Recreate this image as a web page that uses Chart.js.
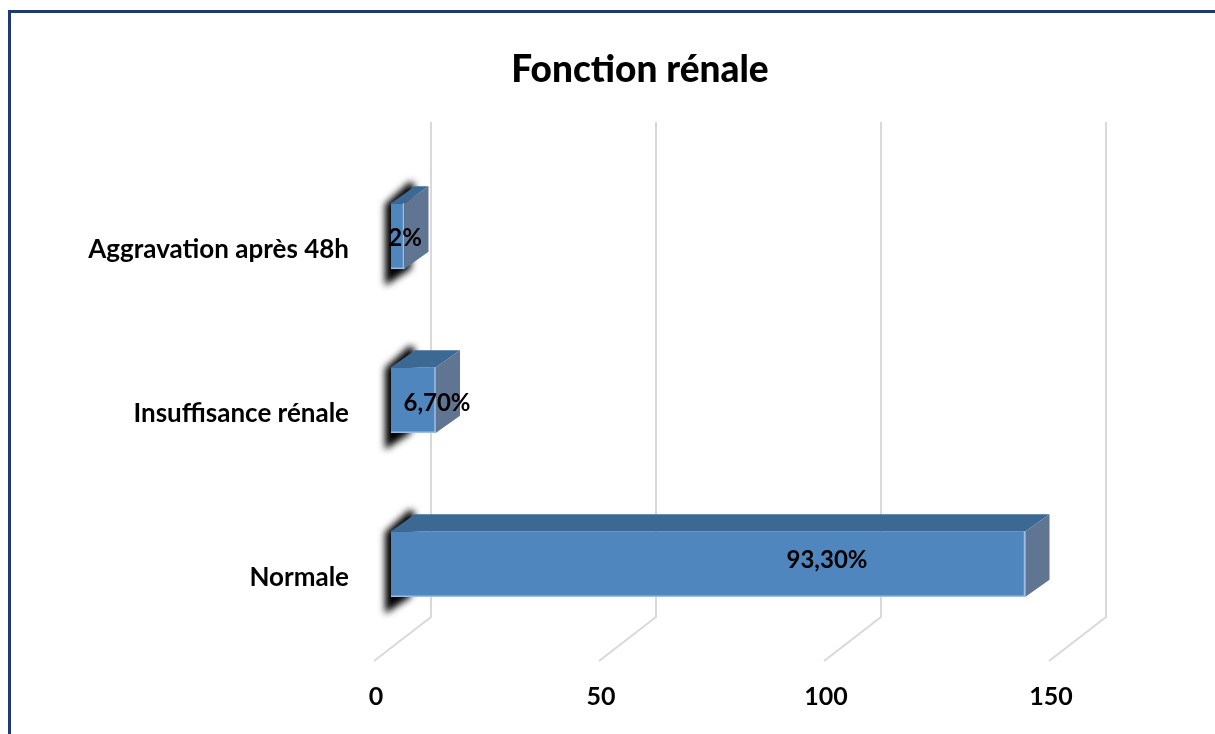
<!DOCTYPE html>
<html>
<head>
<meta charset="utf-8">
<title>Fonction rénale</title>
<script src="https://cdn.jsdelivr.net/npm/chart.js@4.4.0/dist/chart.umd.min.js"></script>
<style>
  html, body { margin: 0; padding: 0; background: #fff; overflow: hidden; }
  #wrap { position: relative; width: 1215px; height: 734px; }
  #frame {
    position: absolute; left: 8px; top: 10px; width: 1300px; height: 800px;
    border-left: 3px solid #1f3a72; border-top: 3px solid #1f3a72;
  }
  #title {
    position: absolute; left: 0; top: 46px; width: 1280px; text-align: center;
    font: 900 37px Lato, sans-serif; line-height: 44px; color: #000;
  }
  #chart { position: absolute; left: 0; top: 0; }
</style>
</head>
<body>
<div id="wrap">
  <div id="frame"></div>
  <canvas id="chart" width="1215" height="734"></canvas>
  <div id="title">Fonction rénale</div>
</div>
<script>
// data (bar lengths are counts, labels show the %)
const categories = ["Aggravation après 48h", "Insuffisance rénale", "Normale"];
const counts = [3, 10, 141];
const pctLabels = ["2%", "6,70%", "93,30%"];
const xTicks = [0, 50, 100, 150];

const FONT = "Lato, sans-serif";

// fake 3D look: back wall gridlines, shadow, top + side faces, labels
const bar3d = {
  id: "bar3d",
  beforeDraw(chart, args, opts) {
    const { ctx, chartArea, scales: { x } } = chart;
    ctx.save();
    ctx.strokeStyle = "#d9d9d9";
    ctx.lineWidth = 2;
    xTicks.forEach(v => {
      const px = x.getPixelForValue(v);
      ctx.beginPath();
      ctx.moveTo(px + 40, chartArea.top - 32);
      ctx.lineTo(px + 40, chartArea.bottom - 29);
      ctx.lineTo(px - 17, chartArea.bottom + 15);
      ctx.stroke();
    });
    ctx.restore();
  },
  beforeDatasetsDraw(chart) {
    const { ctx } = chart;
    const meta = chart.getDatasetMeta(0);
    const off = 3000; // draw shape off canvas, keep only its blurred shadow
    ctx.save();
    meta.data.forEach(bar => {
      const { y, base, height } = bar.getProps(["y", "base", "height"], true);
      const top = y - height / 2, bottom = y + height / 2;
      const b = base - off;
      ctx.shadowColor = "rgba(0,0,0,1)";
      ctx.shadowBlur = 7;
      ctx.shadowOffsetX = off;
      ctx.fillStyle = "#000";
      ctx.beginPath();
      ctx.moveTo(b - 6, top + 1);
      ctx.lineTo(b + 19, top - 22);
      ctx.lineTo(b + 24, top - 18);
      ctx.lineTo(b + 20, bottom);
      ctx.lineTo(b - 6, bottom + 17);
      ctx.closePath();
      ctx.fill();
    });
    ctx.restore();
  },
  afterDatasetsDraw(chart, args, opts) {
    const { ctx } = chart;
    const meta = chart.getDatasetMeta(0);
    const dx = opts.depthX, dy = opts.depthY;
    ctx.save();
    meta.data.forEach((bar, i) => {
      const { x, y, base, height } = bar.getProps(["x", "y", "base", "height"], true);
      const top = y - height / 2, bottom = y + height / 2;
      // top face
      ctx.fillStyle = "#3c6994";
      ctx.beginPath();
      ctx.moveTo(base, top);
      ctx.lineTo(base + dx, top + dy);
      ctx.lineTo(x + dx, top + dy);
      ctx.lineTo(x, top);
      ctx.closePath();
      ctx.fill();
      // side face
      ctx.fillStyle = "#5f7591";
      ctx.beginPath();
      ctx.moveTo(x, top);
      ctx.lineTo(x + dx, top + dy);
      ctx.lineTo(x + dx, bottom + dy);
      ctx.lineTo(x, bottom);
      ctx.closePath();
      ctx.fill();
      // light edge on the front face
      ctx.strokeStyle = "#9cbde4";
      ctx.lineWidth = 1.5;
      ctx.beginPath();
      ctx.moveTo(x - 1, top);
      ctx.lineTo(x - 1, bottom);
      ctx.stroke();
      ctx.beginPath();
      ctx.moveTo(base, bottom - 0.5);
      ctx.lineTo(x, bottom - 0.5);
      ctx.stroke();
      // value label
      ctx.fillStyle = "#000";
      ctx.font = "bold 24px " + FONT;
      ctx.textAlign = "center";
      ctx.textBaseline = "middle";
      ctx.fillText(pctLabels[i], base + opts.labelDx[i], y + opts.labelDy[i]);
    });
    ctx.restore();
  }
};

new Chart(document.getElementById("chart"), {
  type: "bar",
  data: {
    labels: categories,
    datasets: [{
      data: counts,
      backgroundColor: "#4f86bd",
      borderWidth: 0,
      barPercentage: 0.4,
      categoryPercentage: 1
    }]
  },
  options: {
    indexAxis: "y",
    responsive: false,
    animation: false,
    layout: { padding: { top: 154, right: 149, bottom: 0, left: 0 } },
    plugins: {
      legend: { display: false },
      tooltip: { enabled: false },
      bar3d: { depthX: 24, depthY: -17, labelDx: [14, 46, 436], labelDy: [2, 3, -4] }
    },
    scales: {
      x: {
        min: 0, max: 150,
        afterFit: s => { s.height = 88; },
        afterBuildTicks: s => { s.ticks = xTicks.map(v => ({ value: v })); },
        grid: { display: false, drawTicks: false },
        border: { display: false },
        ticks: {
          color: "#000", padding: 36, labelOffset: -15,
          font: { family: FONT, size: 25, weight: "bold" }
        }
      },
      y: {
        afterFit: s => { s.width = 391; },
        grid: { display: false, drawTicks: false },
        border: { display: false },
        ticks: {
          color: "#000", padding: 42, labelOffset: 14,
          font: { family: FONT, size: 26, weight: "bold" }
        }
      }
    }
  },
  plugins: [bar3d]
});
</script>
</body>
</html>
